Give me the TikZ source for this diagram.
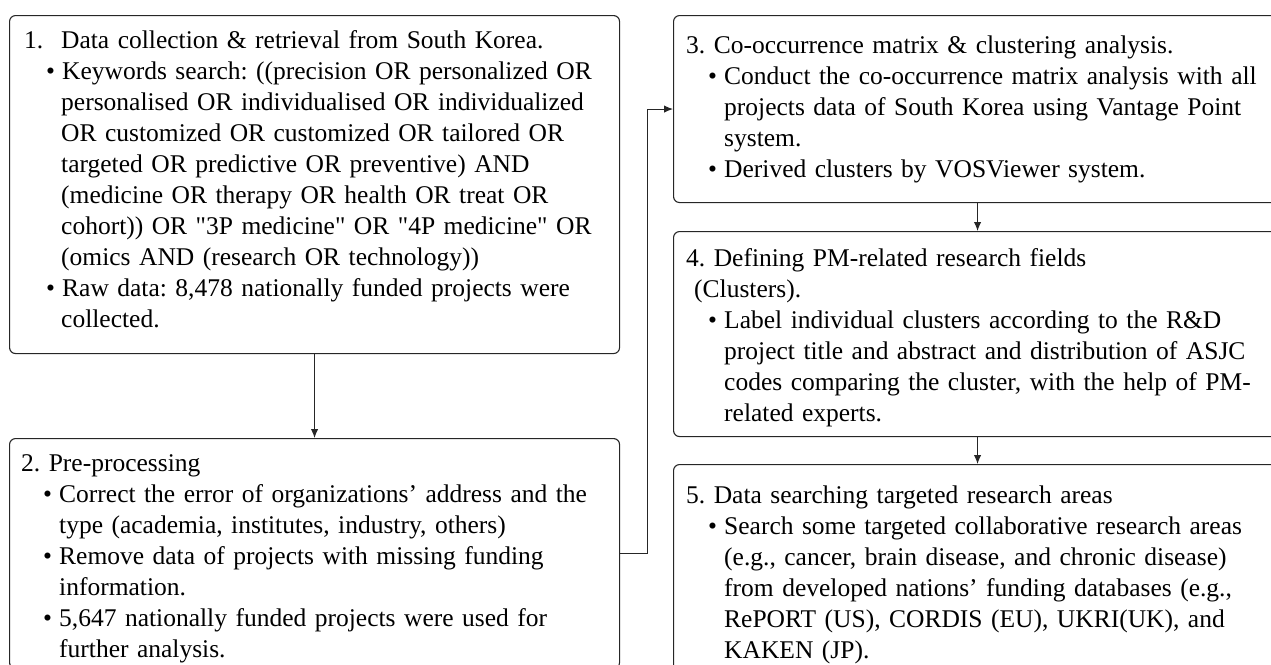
\documentclass[tikz,border=0pt]{standalone}
\usepackage{fontspec}
\setmainfont{Liberation Serif}[Ligatures=TeXOff]
\usetikzlibrary{arrows.meta}
\frenchspacing
\newcommand{\hd}[2]{\makebox[#1][l]{#2}}
\newcommand{\bl}{\hspace*{22pt}\makebox[16pt][l]{\textbullet}}
\newcommand{\cl}{\hspace*{38pt}}
\begin{document}
\begin{tikzpicture}[x=1pt,y=-1pt,
  box/.style={draw=black!85, line width=1.1pt, rounded corners=6pt, inner sep=0pt, anchor=north west},
  conn/.style={draw=black!85, line width=1.1pt, -{Latex[length=9pt,width=7.5pt]}},
  txt/.style={anchor=north west, inner sep=0pt, text width=700pt, align=left, font=\fontsize{25.5}{31}\selectfont\frenchspacing}]
\useasboundingbox (0,0) rectangle (1271,664);
\begin{scope}
\clip (0,0) rectangle (1271,664);
% boxes
\node[box, minimum width=610pt, minimum height=338pt] (b1) at (9,15) {};
\node[box, minimum width=610pt, minimum height=230pt] (b2) at (9,438) {};
\node[box, minimum width=608pt, minimum height=187pt] (b3) at (673,15) {};
\node[box, minimum width=608pt, minimum height=205pt] (b4) at (673,231) {};
\node[box, minimum width=608pt, minimum height=230pt] (b5) at (673,464) {};
% connectors
\draw[conn] (b1.south) -- (b2.north);
\draw[conn] (b3.south) -- (b4.north);
\draw[conn] (b4.south) -- (b5.north);
\draw[conn] (b2.east) -- ++(27,0) |- (b3.west);
% texts
\node[txt] (t1) at (24,28) {\rule{0pt}{20pt}\hd{37pt}{1.}Data collection \& retrieval from South Korea.\\
\bl Keywords search: ((precision OR personalized OR\\
\hspace*{37pt}personalised OR individualised OR individualized\\
\hspace*{37pt}OR customized OR customized OR tailored OR\\
\hspace*{37pt}targeted OR predictive OR preventive) AND\\
\hspace*{37pt}(medicine OR therapy OR health OR treat OR\\
\hspace*{37pt}cohort)) OR "3P medicine" OR "4P medicine" OR\\
\hspace*{37pt}(omics AND (research OR technology))\\
\bl Raw data: 8,478 nationally funded projects were\\
\hspace*{37pt}collected.};
\node[txt] (t2) at (21,451) {\rule{0pt}{20pt}2. Pre-processing\\
\bl Correct the error of organizations’ address and the\\
\cl type (academia, institutes, industry, others)\\
\bl Remove data of projects with missing funding\\
\cl information.\\
\bl 5,647 nationally funded projects were used for\\
\cl further analysis.};
\node[txt] (t3) at (686,33) {\rule{0pt}{20pt}3. Co-occurrence matrix \& clustering analysis.\\
\bl Conduct the co-occurrence matrix analysis with all\\
\cl projects data of South Korea using Vantage Point\\
\cl system.\\
\bl Derived clusters by VOSViewer system.};
\node[txt] (t4) at (686,246) {\rule{0pt}{20pt}4. Defining PM-related research fields\\
\hspace*{8pt}(Clusters).\\
\bl Label individual clusters according to the R\&D\\
\cl project title and abstract and distribution of ASJC\\
\cl codes comparing the cluster, with the help of PM-\\
\cl related experts.};
\node[txt] (t5) at (686,483) {\rule{0pt}{20pt}5. Data searching targeted research areas\\
\bl Search some targeted collaborative research areas\\
\cl (e.g., cancer, brain disease, and chronic disease)\\
\cl from developed nations’ funding databases (e.g.,\\
\cl RePORT (US), CORDIS (EU), UKRI(UK), and\\
\cl KAKEN (JP).};
\end{scope}
\end{tikzpicture}
\end{document}
